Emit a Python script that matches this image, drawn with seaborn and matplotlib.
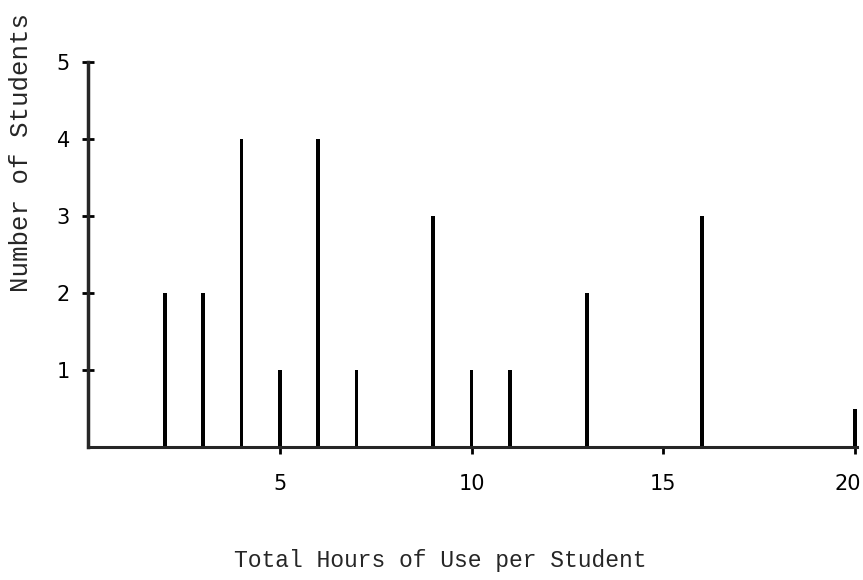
import matplotlib
matplotlib.use("Agg")
import matplotlib.pyplot as plt
import matplotlib.transforms as mtransforms
import seaborn as sns

# dados
hours = [0, 2, 3, 4, 5, 6, 7, 9, 10, 11, 13, 16, 20]
students = [5, 2, 2, 4, 1, 4, 1, 3, 1, 1, 2, 3, 0.5]
x_ticks = [5, 10, 15, 20]
y_ticks = [1, 2, 3, 4, 5]

sns.set_style("ticks")
plt.rcParams['font.family'] = ['DejaVu Sans']

fig = plt.figure(figsize=(8.63, 5.8), dpi=100)
ax = fig.add_axes([0.102, 0.229, 0.891, 0.664])

sns.barplot(x=hours, y=students, native_scale=True, width=0.1,
            color='black', edgecolor='black', linewidth=0, ax=ax)

ax.set_xlim(0, 20.05)
ax.set_ylim(0, 5)
ax.set_xticks(x_ticks)
ax.set_yticks(y_ticks)
ax.tick_params(axis='both', labelsize=15, colors='black', width=2)
ax.tick_params(axis='y', direction='inout', length=8, pad=9)
ax.tick_params(axis='x', direction='out', length=5, pad=14)

# empurrar o "20" um pouco para dentro
offset = mtransforms.ScaledTranslation(-7 / 100, 0, fig.dpi_scale_trans)
last = ax.get_xticklabels()[-1]
last.set_transform(last.get_transform() + offset)

sns.despine(ax=ax)
ax.spines['left'].set_linewidth(2.5)
ax.spines['bottom'].set_linewidth(2.2)

ax.set_xlabel("Total Hours of Use per Student", family='Liberation Mono',
              fontsize=16.6)
ax.xaxis.set_label_coords(0.458, -0.265)
ax.set_ylabel("Number of Students", family='Liberation Mono',
              fontsize=18.5)
ax.yaxis.set_label_coords(-0.071, 0.766)

plt.savefig("out.png", dpi=100)
